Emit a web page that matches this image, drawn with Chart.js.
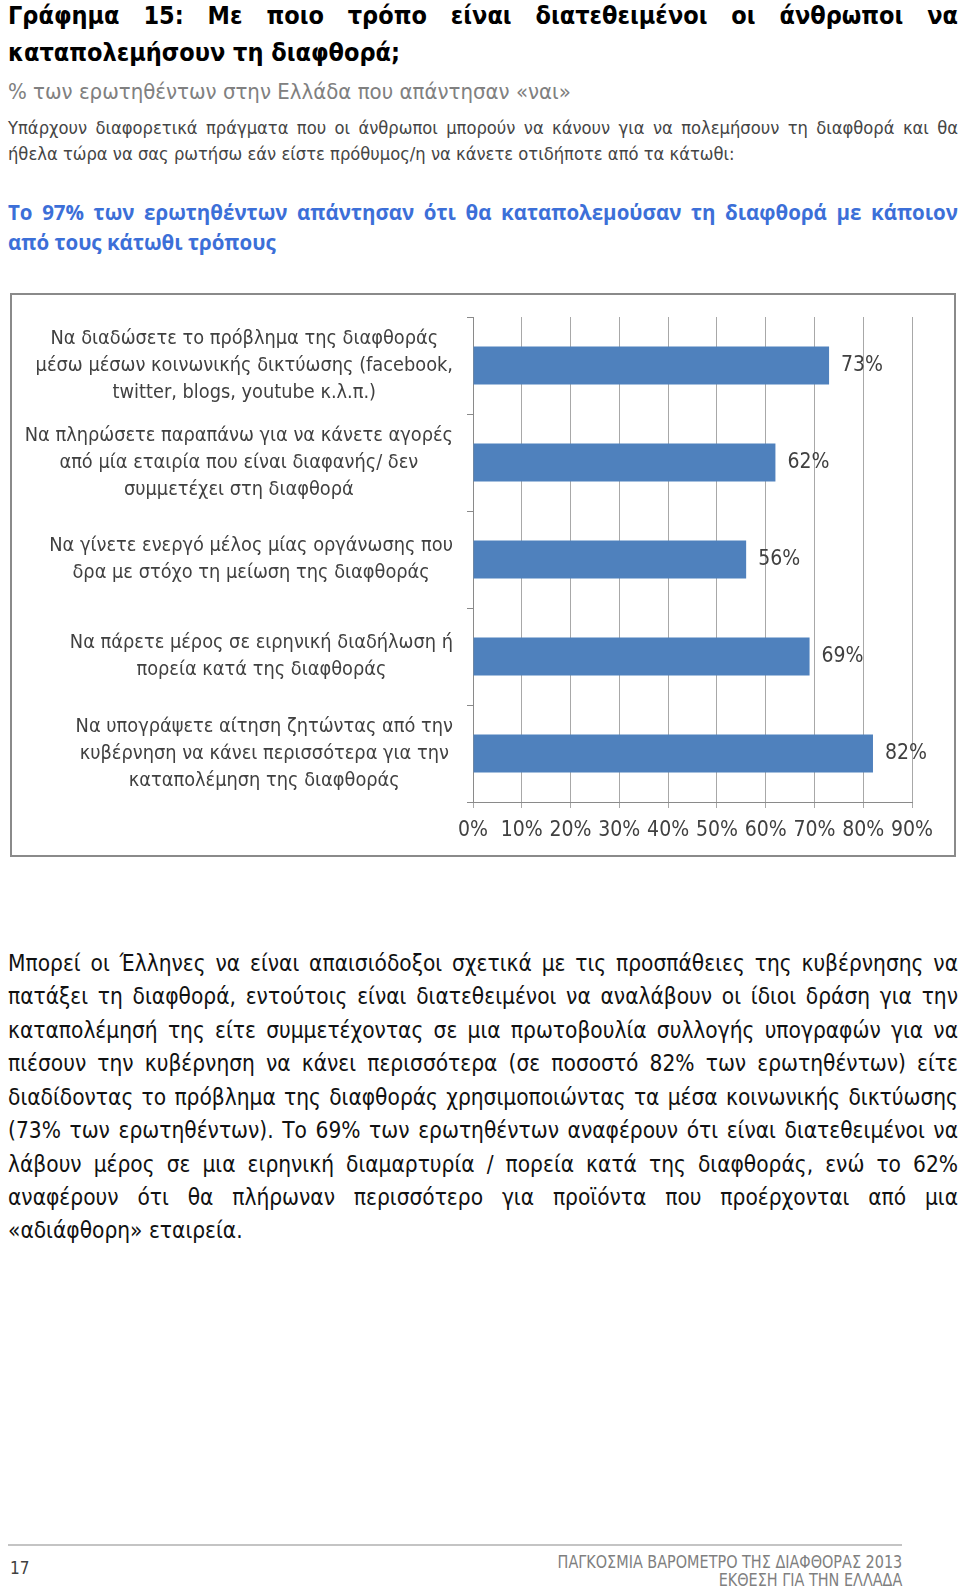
<!DOCTYPE html>
<html>
<head>
<meta charset="utf-8">
<script src="https://cdn.jsdelivr.net/npm/chart.js@4.4.0/dist/chart.umd.min.js"></script>
<style>
  body { margin:0; background:#fff; width:960px; height:1590px; position:relative; overflow:hidden;
         font-family:"DejaVu Sans Condensed","DejaVu Sans",sans-serif; }
  .ln { position:absolute; left:8px; width:950px; white-space:nowrap; line-height:1; }
  .j { text-align:justify; text-align-last:justify; }
  .title { font-weight:bold; font-size:25px; color:#000; }
  .sub { font-size:22px; color:#808080; }
  .para { font-size:18.2px; color:#454545; }
  .blue { font-family:"Open Sans",sans-serif; font-weight:bold; font-size:20.5px; color:#3c6fd8; }
  .body { font-size:22.5px; color:#111; }
  #box { position:absolute; left:10px; top:293px; width:946px; height:564px; box-sizing:border-box;
         border:2px solid #8a8a8a; }
  #foot { position:absolute; left:8px; top:1544px; width:894px; height:0; border-top:2px solid #c4c4c4; }
  .fr { position:absolute; right:58px; font-size:18px; color:#7f7f7f; line-height:1; white-space:nowrap;
        transform:scaleX(0.89); transform-origin:100% 0; }
</style>
</head>
<body>
<div class="ln j title" style="top:3px">Γράφημα 15: Με ποιο τρόπο είναι διατεθειμένοι οι άνθρωποι να</div>
<div class="ln title" style="top:40px">καταπολεμήσουν τη διαφθορά;</div>
<div class="ln sub" style="top:81px">% των ερωτηθέντων στην Ελλάδα που απάντησαν «ναι»</div>
<div class="ln j para" style="top:119px">Υπάρχουν διαφορετικά πράγματα που οι άνθρωποι μπορούν να κάνουν για να πολεμήσουν τη διαφθορά και θα</div>
<div class="ln para" style="top:145px">ήθελα τώρα να σας ρωτήσω εάν είστε πρόθυμος/η να κάνετε οτιδήποτε από τα κάτωθι:</div>
<div class="ln j blue" style="top:202px">Το 97% των ερωτηθέντων απάντησαν ότι θα καταπολεμούσαν τη διαφθορά με κάποιον</div>
<div class="ln blue" style="top:232px">από τους κάτωθι τρόπους</div>

<div id="box"><canvas id="chart" width="942" height="560"></canvas></div>

<div class="ln j body" style="top:952px">Μπορεί οι Έλληνες να είναι απαισιόδοξοι σχετικά με τις προσπάθειες της κυβέρνησης να</div>
<div class="ln j body" style="top:985px">πατάξει τη διαφθορά, εντούτοις είναι διατεθειμένοι να αναλάβουν οι ίδιοι δράση για την</div>
<div class="ln j body" style="top:1019px">καταπολέμησή της είτε συμμετέχοντας σε μια πρωτοβουλία συλλογής υπογραφών για να</div>
<div class="ln j body" style="top:1052px">πιέσουν την κυβέρνηση να κάνει περισσότερα (σε ποσοστό 82% των ερωτηθέντων) είτε</div>
<div class="ln j body" style="top:1086px">διαδίδοντας το πρόβλημα της διαφθοράς χρησιμοποιώντας τα μέσα κοινωνικής δικτύωσης</div>
<div class="ln j body" style="top:1119px">(73% των ερωτηθέντων). Το 69% των ερωτηθέντων αναφέρουν ότι είναι διατεθειμένοι να</div>
<div class="ln j body" style="top:1153px">λάβουν μέρος σε μια ειρηνική διαμαρτυρία / πορεία κατά της διαφθοράς, ενώ το 62%</div>
<div class="ln j body" style="top:1186px">αναφέρουν ότι θα πλήρωναν περισσότερο για προϊόντα που προέρχονται από μια</div>
<div class="ln body" style="top:1219px">«αδιάφθορη» εταιρεία.</div>

<div id="foot"></div>
<div class="ln" style="top:1560px;left:10px;font-size:17px;color:#404040">17</div>
<div class="fr" style="top:1553px">ΠΑΓΚΟΣΜΙΑ ΒΑΡΟΜΕΤΡΟ ΤΗΣ ΔΙΑΦΘΟΡΑΣ 2013</div>
<div class="fr" style="top:1571px">ΕΚΘΕΣΗ ΓΙΑ ΤΗΝ ΕΛΛΑΔΑ</div>

<script>
// justified lines: squeeze horizontally if the line is wider than the column
document.querySelectorAll('.j').forEach(el => {
    el.style.width = 'auto';
    const w = el.getBoundingClientRect().width;
    if (w > 950) {
        el.style.width = w + 'px';
        el.style.transformOrigin = '0 0';
        el.style.transform = 'scaleX(' + (950 / w) + ')';
    } else {
        el.style.width = '950px';
    }
});

// --- data ---
const categories = [
    ['Να διαδώσετε το πρόβλημα της διαφθοράς', 'μέσω μέσων κοινωνικής δικτύωσης (facebook,', 'twitter, blogs, youtube κ.λ.π.)'],
    ['Να πληρώσετε παραπάνω για να κάνετε αγορές', 'από μία εταιρία που είναι διαφανής/ δεν', 'συμμετέχει στη διαφθορά'],
    ['Να γίνετε ενεργό μέλος μίας οργάνωσης που', 'δρα με στόχο τη μείωση της διαφθοράς'],
    ['Να πάρετε μέρος σε ειρηνική διαδήλωση ή', 'πορεία κατά της διαφθοράς'],
    ['Να υπογράψετε αίτηση ζητώντας από την', 'κυβέρνηση να κάνει περισσότερα για την', 'καταπολέμηση της διαφθοράς']
];
const values = [73, 62, 56, 69, 82];
const xMin = 0, xMax = 90, xStep = 10;

const chartFont = '"DejaVu Sans Condensed","DejaVu Sans",sans-serif';
const textColor = '#404040';

// category labels: each line centred inside a block that ends near the axis
const catLabels = {
    id: 'catLabels',
    afterDraw(chart) {
        const ctx = chart.ctx;
        const yScale = chart.scales.y;
        const right = chart.chartArea.left - 20;
        ctx.save();
        ctx.font = '19.8px ' + chartFont;
        ctx.fillStyle = textColor;
        ctx.textAlign = 'center';
        ctx.textBaseline = 'middle';
        categories.forEach((lines, i) => {
            const yc = yScale.getPixelForValue(i);
            const w = Math.max(...lines.map(l => ctx.measureText(l).width));
            const xc = right - w / 2;
            const lh = 27;
            lines.forEach((l, k) => {
                ctx.fillText(l, xc, yc + (k - (lines.length - 1) / 2) * lh);
            });
        });
        ctx.restore();
    }
};

// percentage labels at bar ends
const valueLabels = {
    id: 'valueLabels',
    afterDatasetsDraw(chart) {
        const ctx = chart.ctx;
        ctx.save();
        ctx.font = '21px ' + chartFont;
        ctx.fillStyle = textColor;
        ctx.textAlign = 'left';
        ctx.textBaseline = 'middle';
        chart.getDatasetMeta(0).data.forEach((bar, i) => {
            ctx.fillText(values[i] + '%', bar.x + 12, bar.y);
        });
        ctx.restore();
    }
};

new Chart(document.getElementById('chart').getContext('2d'), {
    type: 'bar',
    data: {
        labels: categories,
        datasets: [{ data: values, backgroundColor: '#4f81bd', borderWidth: 0,
                     categoryPercentage: 1, barPercentage: 0.39 }]
    },
    options: {
        indexAxis: 'y',
        responsive: false,
        animation: false,
        devicePixelRatio: 1,
        layout: { padding: { top: 22, right: 42, left: 0, bottom: 0 } },
        plugins: { legend: { display: false }, tooltip: { enabled: false } },
        scales: {
            x: {
                min: xMin, max: xMax,
                afterFit(s) { s.height = 53; },
                ticks: { stepSize: xStep, callback: v => v + '%', color: textColor, padding: 10,
                         font: { family: chartFont, size: 21 } },
                grid: { color: '#a8a8a8', tickLength: 6 },
                border: { color: '#8a8a8a' }
            },
            y: {
                afterFit(s) { s.width = 461; },
                ticks: { display: false },
                grid: { drawOnChartArea: false, tickLength: 6, color: '#8a8a8a' },
                border: { color: '#8a8a8a' }
            }
        }
    },
    plugins: [catLabels, valueLabels]
});
</script>
</body>
</html>
